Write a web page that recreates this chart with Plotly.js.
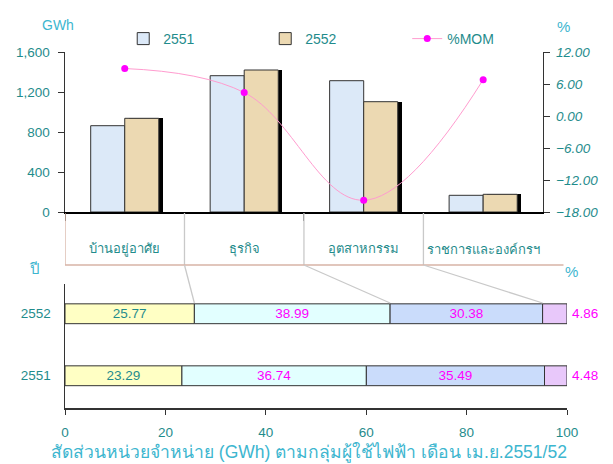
<!DOCTYPE html>
<html><head><meta charset="utf-8">
<script src="https://cdn.plot.ly/plotly-3.0.1.min.js"></script>
<style>body{margin:0;background:#fff}#c{width:613px;height:464px}</style>
</head><body><div id="c"></div>
<script>
// ---- data ----
const categories = ['บ้านอยู่อาศัย', 'ธุรกิจ', 'อุตสาหกรรม', 'ราชการและองค์กรฯ'];
const gwh2551 = [863, 1363, 1313, 167];
const gwh2552 = [937, 1420, 1103, 177];
const momPct = [8.9, 4.4, -15.8, 6.8];
const years = ['2551', '2552'];
const shareResidential = [23.29, 25.77];
const shareBusiness = [36.74, 38.99];
const shareIndustry = [35.49, 30.38];
const shareGovernment = [4.48, 4.86];
const leftTicks = [0, 400, 800, 1200, 1600];
const rightTicks = [-18, -12, -6, 0, 6, 12];
const shareTicks = [0, 20, 40, 60, 80, 100];

const FONT = 'Liberation Sans, Arial, sans-serif';
const TEAL = '#1f8c8c';
const CYAN = '#3db6cf';
const MAG = '#ff00ff';
const H = 464;
const py = v => 1 - v / H; // pixel row -> paper
const xIdx = categories.map((c, i) => i);
const yIdx = years.map((y, i) => i);
const topDomEnd = 0.952;
const bw = 0.285;
const r2 = v => Math.round(v * 100) / 100;

const traces = [];
// shadow behind 2552 bars
traces.push({type: 'bar', x: xIdx, y: gwh2552, width: bw, offset: 0.035,
  marker: {color: '#000', line: {width: 0}}, showlegend: false, hoverinfo: 'skip', xaxis: 'x', yaxis: 'y'});
traces.push({type: 'bar', name: '2551', x: xIdx, y: gwh2551, width: bw, offset: -bw,
  marker: {color: '#dce9f8', line: {color: '#333', width: 1}}, xaxis: 'x', yaxis: 'y'});
traces.push({type: 'bar', name: '2552', x: xIdx, y: gwh2552, width: bw, offset: 0,
  marker: {color: '#ecd9b2', line: {color: '#333', width: 1}}, xaxis: 'x', yaxis: 'y'});
traces.push({type: 'scatter', name: '%MOM', x: xIdx, y: momPct, mode: 'lines+markers',
  line: {color: '#ff9ccf', width: 1, shape: 'spline', smoothing: 1.1},
  marker: {color: MAG, size: 7}, xaxis: 'x', yaxis: 'y2', cliponaxis: false});

// bottom stacked share bars (base from cumulative sums)
const shareSeries = [
  {v: shareResidential, fill: '#ffffc4', tc: TEAL},
  {v: shareBusiness, fill: '#e2ffff', tc: MAG},
  {v: shareIndustry, fill: '#cadcfb', tc: MAG},
  {v: shareGovernment, fill: '#e8c8fa', tc: MAG}
];
let cum = years.map(() => 0);
const cumList = [];
const annotations = [];
shareSeries.forEach((s, k) => {
  const base = cum.slice();
  const last = k === shareSeries.length - 1;
  traces.push({type: 'bar', orientation: 'h', x: s.v, y: yIdx, base: base, width: 0.32,
    marker: {color: s.fill, line: {color: '#333', width: 1}},
    text: last ? undefined : s.v.map(v => v.toFixed(2)), textposition: 'inside',
    insidetextanchor: 'middle', constraintext: 'none',
    textfont: {family: FONT, size: 13.5, color: s.tc},
    showlegend: false, hoverinfo: 'skip', xaxis: 'x2', yaxis: 'y3'});
  cum = cum.map((c, i) => r2(c + s.v[i]));
  cumList.push(cum.slice());
  if (last) {
    s.v.forEach((v, i) => annotations.push({xref: 'x2', yref: 'y3', x: Math.min(cum[i], 100), y: yIdx[i],
      text: v.toFixed(2), showarrow: false, xanchor: 'left', xshift: 3,
      font: {family: FONT, size: 13.5, color: s.tc}}));
  }
});

// shapes
const shapes = [];
const tabTop = py(213), tabBot = py(265);
for (let k = 0; k < categories.length; k++) {
  shapes.push({type: 'line', xref: 'x', yref: 'paper', x0: k - 0.5, x1: k - 0.5, y0: tabTop, y1: tabBot,
    line: {color: k === 0 ? '#d7b3a6' : '#c9c9c9', width: 1.3}});
}
shapes.push({type: 'line', xref: 'paper', yref: 'paper', x0: 0, x1: 0.993, y0: tabBot, y1: tabBot,
  line: {color: '#d7b3a6', width: 1.3}});
for (let k = 1; k < categories.length; k++) {
  const xTop = k / categories.length * topDomEnd * 100;
  shapes.push({type: 'line', xref: 'x2', yref: 'paper', x0: xTop, y0: tabBot,
    x1: cumList[k - 1][1], y1: py(303), line: {color: '#c9c9c9', width: 1.3}});
}

categories.forEach((c, i) => annotations.push({xref: 'x', yref: 'paper', x: i, y: py(249), text: c,
  showarrow: false, font: {family: FONT, size: 13, color: TEAL}}));
annotations.push({xref: 'paper', yref: 'paper', x: (40 - 65) / 502, y: py(15), text: 'GWh', showarrow: false,
  font: {family: FONT, size: 14, color: CYAN}});
annotations.push({xref: 'paper', yref: 'paper', x: (572 - 65) / 502, y: py(16), text: '%', showarrow: false,
  font: {family: FONT, size: 15, color: CYAN}});
annotations.push({xref: 'paper', yref: 'paper', x: (27 - 65) / 502, y: py(268), text: 'ปี', showarrow: false,
  font: {family: FONT, size: 15, color: CYAN}});
annotations.push({xref: 'paper', yref: 'paper', x: (580 - 65) / 502, y: py(271), text: '%', showarrow: false,
  font: {family: FONT, size: 15, color: CYAN}});

const layout = {
  width: 613, height: 464,
  margin: {l: 65, r: 46, t: 0, b: 0},
  paper_bgcolor: '#fff', plot_bgcolor: 'rgba(0,0,0,0)',
  font: {family: FONT, color: TEAL, size: 13},
  barmode: 'overlay',
  bargap: 0,
  title: {text: 'สัดส่วนหน่วยจำหน่าย (GWh) ตามกลุ่มผู้ใช้ไฟฟ้า เดือน เม.ย.2551/52',
    x: 0.504, xanchor: 'center', y: py(452), yanchor: 'middle',
    font: {family: FONT, size: 17.5, color: CYAN}},
  showlegend: true,
  legend: {orientation: 'h', x: 0.116, y: py(39), yanchor: 'middle', xanchor: 'left',
    entrywidth: 97, entrywidthmode: 'pixels', bgcolor: 'rgba(0,0,0,0)',
    font: {family: FONT, size: 14, color: TEAL}, traceorder: 'normal'},
  xaxis: {domain: [0, topDomEnd], anchor: 'y', range: [-0.5, 3.5], tickvals: [-0.5, 0.5, 1.5, 2.5],
    showticklabels: false, ticks: 'outside', ticklen: 7, tickcolor: '#555', showgrid: false, zeroline: false,
    showline: true, linecolor: '#000', linewidth: 1.5, fixedrange: true},
  yaxis: {domain: [py(212), py(52)], anchor: 'x', range: [0, 1600], tickvals: leftTicks, tickformat: ',d',
    ticks: 'outside', ticklen: 6, tickcolor: '#333', showgrid: false, zeroline: false,
    showline: true, linecolor: '#333', linewidth: 1.5, tickfont: {size: 13.5, color: TEAL}, ticklabelstandoff: 5},
  yaxis2: {overlaying: 'y', side: 'right', anchor: 'x', range: [-18, 12], tickvals: rightTicks, tickformat: '.2f',
    ticks: 'outside', ticklen: 6, tickcolor: '#333', showgrid: false, zeroline: false,
    showline: true, linecolor: '#333', linewidth: 1.5, tickfont: {size: 13.5, color: TEAL, style: 'italic'},
    ticklabelstandoff: 3},
  xaxis2: {domain: [0, 1], anchor: 'y3', range: [0, 100], tickvals: shareTicks, ticks: 'outside', ticklen: 5,
    tickcolor: '#333', showgrid: false, zeroline: false, showline: true, linecolor: '#333', linewidth: 1.5,
    tickfont: {size: 13.5, color: TEAL}, ticklabelstandoff: 6},
  yaxis3: {domain: [py(408), py(284)], anchor: 'x2', range: [-0.52, 1.48], tickvals: yIdx, ticktext: years,
    ticks: '', showgrid: false, zeroline: false, showline: true, linecolor: '#333', linewidth: 1.5,
    tickfont: {size: 13.5, color: TEAL}, ticklabelstandoff: 10},
  shapes: shapes,
  annotations: annotations
};
Plotly.newPlot('c', traces, layout, {displayModeBar: false, staticPlot: true});
</script></body></html>
